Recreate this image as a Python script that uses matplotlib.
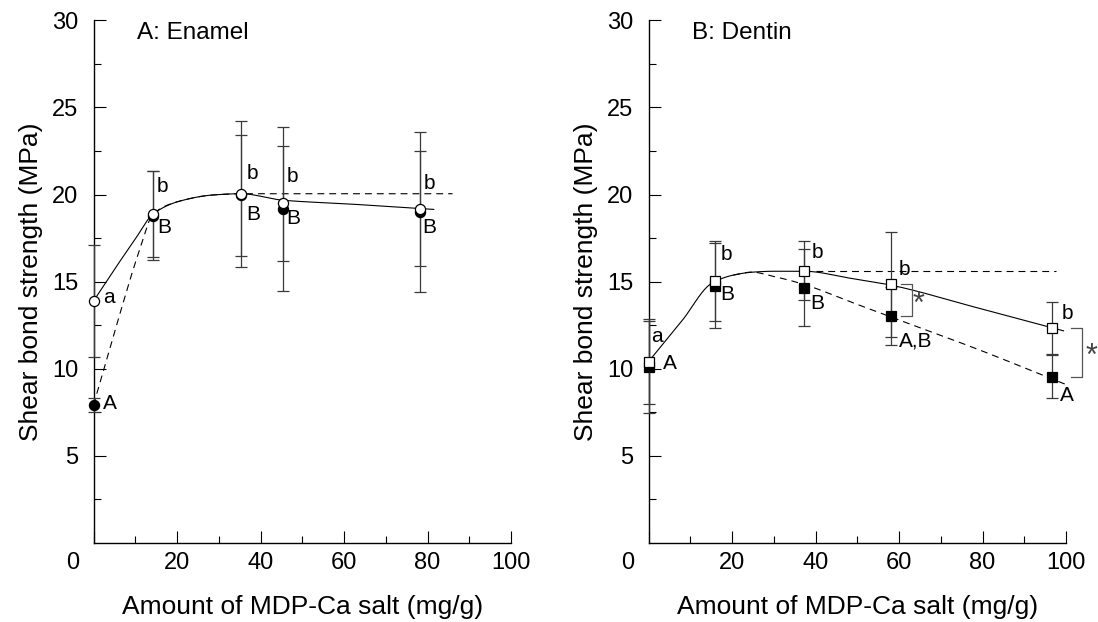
import numpy as np
import matplotlib.pyplot as plt
from matplotlib.transforms import ScaledTranslation

plt.rcParams['font.family'] = ['Liberation Sans', 'DejaVu Sans']

# ---- A: Enamel ----
en_x = [0, 14.3, 35.3, 45.3, 78.2]
en_open = [13.89, 18.89, 20.03, 19.5, 19.19]
en_open_sd = [3.2, 2.45, 4.2, 3.3, 3.3]
en_fill = [7.92, 18.8, 19.95, 19.16, 19.0]
en_fill_sd = [0.4, 2.55, 3.5, 4.7, 4.6]
en_open_lbl = ['a', 'b', 'b', 'b', 'b']
en_fill_lbl = ['A', 'B', 'B', 'B', 'B']

# fitted curves
en_open_fit_x = [0, 5, 10, 14.3, 20.7, 28.7, 35.3, 45.3, 62, 78.2, 81.5]
en_open_fit_y = [13.89, 15.7, 17.45, 18.89, 19.63, 19.98, 20.05, 19.68, 19.45, 19.2, 19.15]
en_fill_fit_x = [0, 6, 11, 14.3, 20.7, 28.7, 35.3, 60, 86]
en_fill_fit_y = [7.92, 12.9, 16.8, 18.89, 19.63, 19.98, 20.05, 20.05, 20.05]

# ---- B: Dentin ----
de_x = [0, 15.9, 37.3, 58.1, 96.6]
de_open = [10.41, 15.04, 15.63, 14.85, 12.36]
de_open_sd = [2.45, 2.3, 1.68, 3.0, 1.5]
de_fill = [10.12, 14.78, 14.66, 13.03, 9.55]
de_fill_sd = [2.65, 2.45, 2.2, 1.66, 1.25]
de_open_lbl = ['a', 'b', 'b', 'b', 'b']
de_fill_lbl = ['A', 'B', 'B', 'A,B', 'A']

de_open_fit_x = [0, 8, 15.1, 20.3, 25, 30, 37.3, 48.3, 58.1, 78, 96.6, 99.4]
de_open_fit_y = [10.41, 12.75, 14.9, 15.38, 15.55, 15.6, 15.6, 15.2, 14.8, 13.55, 12.36, 12.18]
de_fill_fit_x = [20.3, 24.7, 30, 37.3, 48.3, 58.1, 78, 100.5]
de_fill_fit_y = [15.38, 15.55, 15.3, 14.84, 13.85, 12.97, 11.2, 9.05]
de_plateau_x = [37.3, 97.7]
de_plateau_y = [15.63, 15.63]

xlabel = 'Amount of MDP-Ca salt (mg/g)'
ylabel = 'Shear bond strength (MPa)'


def smooth(xk, yk, n=400):
    # monotone cubic (Fritsch-Carlson) through the knots
    x = np.asarray(xk, float)
    y = np.asarray(yk, float)
    h = np.diff(x)
    d = np.diff(y) / h
    m = np.zeros_like(x)
    m[0], m[-1] = d[0], d[-1]
    for k in range(1, len(x) - 1):
        if d[k - 1] * d[k] > 0:
            w1 = 2 * h[k] + h[k - 1]
            w2 = h[k] + 2 * h[k - 1]
            m[k] = (w1 + w2) / (w1 / d[k - 1] + w2 / d[k])
    xs = np.linspace(x[0], x[-1], n)
    k = np.clip(np.searchsorted(x, xs) - 1, 0, len(x) - 2)
    t = (xs - x[k]) / h[k]
    h00 = 2 * t ** 3 - 3 * t ** 2 + 1
    h10 = t ** 3 - 2 * t ** 2 + t
    h01 = -2 * t ** 3 + 3 * t ** 2
    h11 = t ** 3 - t ** 2
    ys = h00 * y[k] + h10 * h[k] * m[k] + h01 * y[k + 1] + h11 * h[k] * m[k + 1]
    return xs, ys


fig = plt.figure(figsize=(10.98, 6.22), dpi=100)
axA = fig.add_axes([93.5 / 1098, 79 / 622, 417.5 / 1098, 522.6 / 622])
axB = fig.add_axes([648.5 / 1098, 79 / 622, 417.5 / 1098, 522.6 / 622])

DASH = (6.2, 4.5)
ebc = '#3a3a3a'


def style(ax, title):
    ax.set_xlim(0, 100)
    ax.set_ylim(0, 30)
    for s in ['top', 'right']:
        ax.spines[s].set_visible(False)
    for s in ['left', 'bottom']:
        ax.spines[s].set_linewidth(1.0)
    ax.set_xticks([0, 20, 40, 60, 80, 100])
    ax.set_xticks([10, 30, 50, 70, 90], minor=True)
    ax.set_yticks([5, 10, 15, 20, 25, 30])
    ax.set_yticks([2.5, 7.5, 12.5, 17.5, 22.5, 27.5], minor=True)
    ax.tick_params(which='major', direction='in', length=8.5, width=0.8, labelsize=17)
    ax.tick_params(which='minor', direction='in', length=5.3, width=0.8)
    ax.tick_params(axis='x', which='major', pad=6.5)
    ax.tick_params(axis='y', which='major', pad=11)
    lbl0 = ax.get_xticklabels()[0]
    lbl0.set_transform(lbl0.get_transform() + ScaledTranslation(-0.21, 0, fig.dpi_scale_trans))
    ax.set_xlabel(xlabel, fontsize=19)
    ax.set_ylabel(ylabel, fontsize=19)
    ax.xaxis.set_label_coords(0.5, -0.122)
    ax.xaxis.label.set_va('center')
    ax.yaxis.set_label_coords(-0.15, 0.5)
    ax.yaxis.label.set_va('center')
    ax.text(0.105, 0.975, title, transform=ax.transAxes, fontsize=17.5, ha='left', va='center')


def series(ax, x, yo, so, yf, sf, marker):
    ax.errorbar(x, yf, yerr=sf, fmt='none', ecolor=ebc, elinewidth=0.9, capsize=4.3,
                capthick=0.9, clip_on=False, zorder=3)
    ax.errorbar(x, yo, yerr=so, fmt='none', ecolor=ebc, elinewidth=0.9, capsize=4.3,
                capthick=0.9, clip_on=False, zorder=3)
    ax.plot(x, yf, ls='none', marker=marker, ms=7.3, mfc='black', mec='black', mew=0.9,
            clip_on=False, zorder=5)
    ax.plot(x, yo, ls='none', marker=marker, ms=7.3, mfc='white', mec='black', mew=0.9,
            clip_on=False, zorder=6)


def letters(ax, x, y, labels, offsets, ha=None):
    for i, (t, (dx, dy)) in enumerate(zip(labels, offsets)):
        h = 'center' if ha is None else ha[i]
        ax.annotate(t, (x[i], y[i]), xytext=(dx, dy), textcoords='offset points',
                    fontsize=15, ha=h, va='center', annotation_clip=False)


# ---- panel A ----
style(axA, 'A: Enamel')
cx, cy = smooth(en_open_fit_x, en_open_fit_y)
axA.plot(cx, cy, color='black', lw=0.8, zorder=2)
cx, cy = smooth(en_fill_fit_x, en_fill_fit_y)
axA.plot(cx, cy, color='black', lw=0.8, dashes=DASH, zorder=2)
series(axA, en_x, en_open, en_open_sd, en_fill, en_fill_sd, 'o')
letters(axA, en_x, en_open, en_open_lbl,
        [(11, 2.9), (6.8, 19.4), (8.2, 15.1), (7.4, 19.4), (6.8, 18)])
letters(axA, en_x, en_fill, en_fill_lbl,
        [(11.5, 1.4), (8.2, -8.3), (8.8, -14), (7.4, -6.5), (6.8, -11)])

# ---- panel B ----
style(axB, 'B: Dentin')
cx, cy = smooth(de_open_fit_x, de_open_fit_y)
axB.plot(cx, cy, color='black', lw=0.8, zorder=2)
cx, cy = smooth(de_fill_fit_x, de_fill_fit_y)
axB.plot(cx, cy, color='black', lw=0.8, dashes=DASH, zorder=2, clip_on=False)
axB.plot(de_plateau_x, de_plateau_y, color='black', lw=0.8, dashes=DASH, zorder=2)
series(axB, de_x, de_open, de_open_sd, de_fill, de_fill_sd, 's')
letters(axB, de_x, de_open, de_open_lbl,
        [(5.8, 18), (8, 19.4), (9.6, 13), (9.6, 10.8), (11, 10.1)])
letters(axB, de_x, de_fill, de_fill_lbl,
        [(15.3, 2.4), (8.8, -6.8), (9.6, -11.7), (5.5, -18), (11, -13.7)],
        ha=['center', 'center', 'center', 'left', 'center'])

# significance brackets between the two series
for i, (x0, x1, xs) in zip([3, 4], [(2.3, 5.1, 6.6), (4.6, 7.3, 9.6)]):
    xb = de_x[i]
    axB.plot([xb + x0, xb + x1, xb + x1, xb + x0], [de_open[i], de_open[i], de_fill[i], de_fill[i]],
             color='#555555', lw=0.9, clip_on=False)
    axB.text(xb + xs, (de_open[i] + de_fill[i]) / 2 - 0.3, '*', fontsize=22, color='#444444',
             ha='center', va='center', clip_on=False)

fig.savefig('out.png', dpi=100)
